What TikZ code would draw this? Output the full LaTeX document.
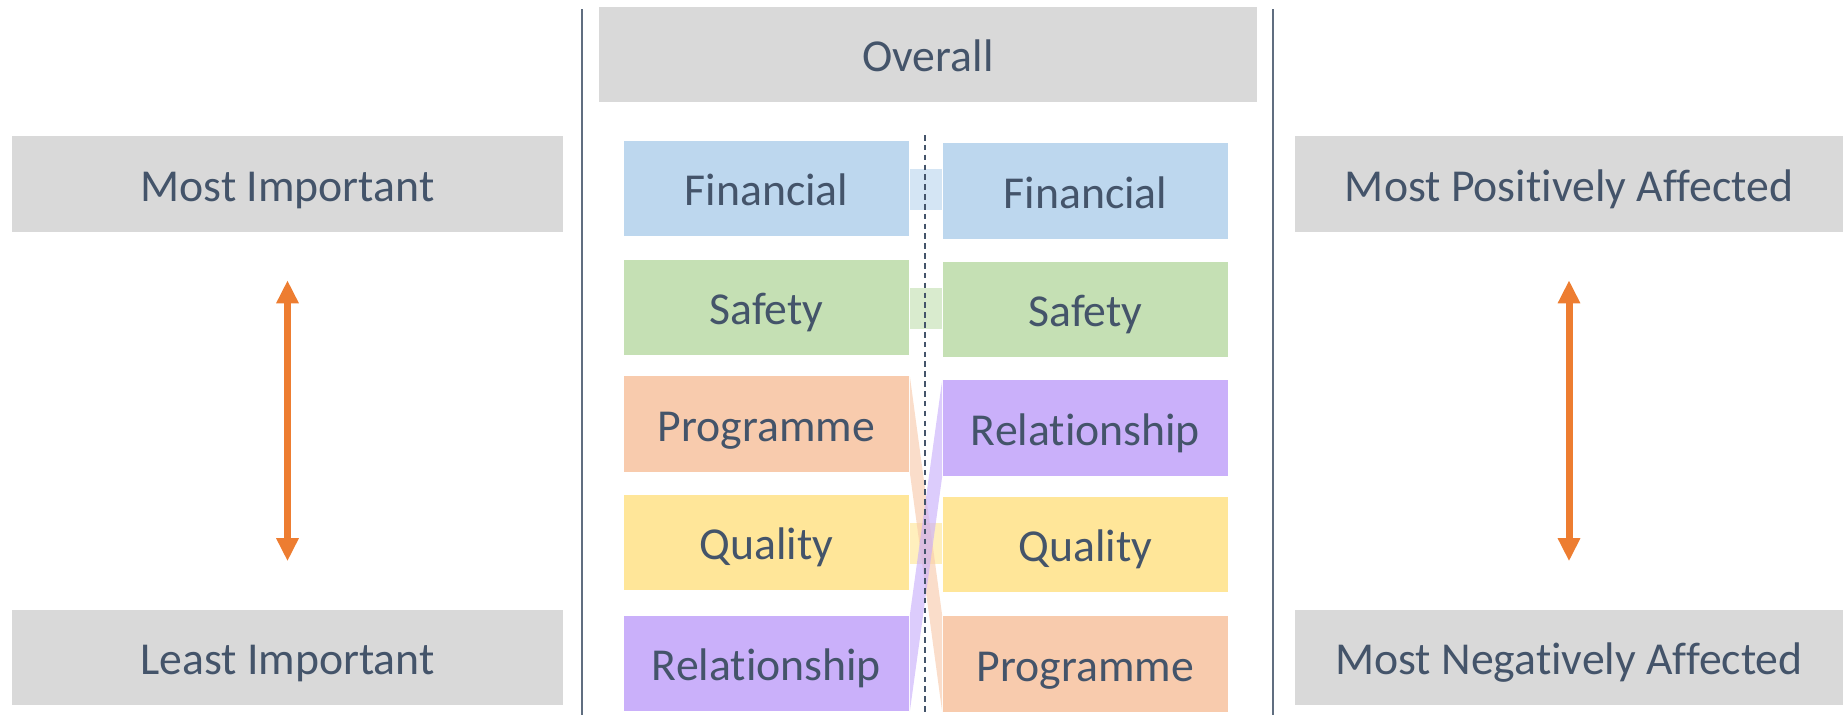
\documentclass[tikz,border=0pt]{standalone}
\usepackage{fontspec}
\setmainfont[Ligatures=NoCommon]{Carlito}
\usepackage{xcolor}
\usepackage{tikz}
\usetikzlibrary{calc}
\usetikzlibrary{arrows.meta}

\definecolor{txtgray}{HTML}{44546A}
\definecolor{boxgray}{HTML}{D9D9D9}
\definecolor{finblue}{HTML}{BDD7EE}
\definecolor{safgreen}{HTML}{C5E0B4}
\definecolor{progorange}{HTML}{F8CBAD}
\definecolor{qualyellow}{HTML}{FFE699}
\definecolor{relpurple}{HTML}{CAB0FA}
\definecolor{arroworange}{HTML}{ED7D31}

\tikzset{
	labelbox/.style={fill=boxgray, text=txtgray, inner sep=0pt, minimum height=0.95cm, text height=0.4cm, text depth=0.056cm, font=\fontsize{13}{15}\selectfont},
	catbox/.style={fill=#1, text=txtgray, inner sep=0pt, minimum width=2.85cm, minimum height=0.95cm, text height=0.4cm, text depth=0.056cm, font=\fontsize{13}{15}\selectfont},
	band/.style={fill=#1, opacity=0.65},
	rankarrow/.style={arroworange, line width=2pt, {Triangle[width=0.21cm,length=0.23cm]}-{Triangle[width=0.21cm,length=0.23cm]}},
	divider/.style={txtgray!85, line width=0.6pt},
}

\begin{document}
\begin{tikzpicture}[x=0.01cm,y=-0.01cm]
	\useasboundingbox (0,0) rectangle (1843,715);
	
	% side labels
	\node[labelbox, minimum width=5.51cm] (mostimp) at (287.5,184) {Most Important};
	\node[labelbox, minimum width=5.51cm] (leastimp) at (287.5,657.5) {Least Important};
	\node[labelbox, minimum width=5.48cm] (mostpos) at (1569,184) {Most Positively Affected};
	\node[labelbox, minimum width=5.48cm] (mostneg) at (1569,657.5) {Most Negatively Affected};
	\node[labelbox, minimum width=6.58cm] (overall) at (928,54.5) {Overall};
	
	\draw[rankarrow] ([yshift=-0.48cm]mostimp.south) -- ([yshift=0.48cm]leastimp.north);
	\draw[rankarrow] ([yshift=-0.48cm]mostpos.south) -- ([yshift=0.48cm]mostneg.north);
	
	% dividers
	\coordinate (divla) at (582,9);
	\coordinate (divlb) at (582,715);
	\coordinate (divra) at (1273,9);
	\coordinate (divrb) at (1273,715);
	\draw[divider] (divla) -- (divlb);
	\draw[divider] (divra) -- (divrb);
	
	% left ranking
	\node[catbox=finblue] (lfin) at (766.5,188.5) {Financial};
	\node[catbox=safgreen] (lsaf) at (766.5,307.5) {Safety};
	\node[catbox=progorange] (lprog) at (766.5,424) {Programme};
	\node[catbox=qualyellow] (lqual) at (766.5,542.5) {Quality};
	\node[catbox=relpurple] (lrel) at (766.5,663.5) {Relationship};
	
	% right ranking
	\node[catbox=finblue] (rfin) at (1085.5,191) {Financial};
	\node[catbox=safgreen] (rsaf) at (1085.5,309.5) {Safety};
	\node[catbox=relpurple] (rrel) at (1085.5,428) {Relationship};
	\node[catbox=qualyellow] (rqual) at (1085.5,544.5) {Quality};
	\node[catbox=progorange] (rprog) at (1085.5,664) {Programme};
	
	% links
	\foreach \a/\c in {fin/finblue,saf/safgreen,qual/qualyellow}
		\fill[band=\c] ($(l\a.north east)!0.3!(l\a.south east)$) rectangle ($(r\a.north west)!0.7!(r\a.south west)$);
	\fill[band=progorange] (lprog.north east) -- (rprog.north west) -- (rprog.south west) -- (lprog.south east) -- cycle;
	\fill[band=relpurple] (lrel.north east) -- (rrel.north west) -- (rrel.south west) -- (lrel.south east) -- cycle;
	
	\coordinate (midtop) at (925,135);
	\coordinate (midbot) at (925,715);
	\draw[txtgray, line width=0.6pt, dash pattern=on 1.6pt off 1.2pt] (midtop) -- (midbot);
\end{tikzpicture}
\end{document}
